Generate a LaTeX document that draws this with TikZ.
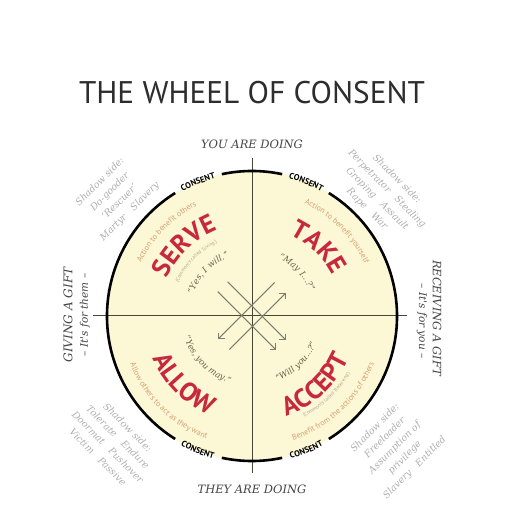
\documentclass[tikz,border=0pt]{standalone}
\usepackage{fontspec}
\setmainfont{DejaVu Serif}
\newfontfamily\sansfont{PT Sans}
\newfontfamily\slabfont{DejaVu Serif}
\usetikzlibrary{decorations.text,arrows.meta}
\definecolor{wheelfill}{RGB}{252,247,212}
\definecolor{wheelred}{RGB}{200,40,60}
\definecolor{tantext}{RGB}{214,160,118}
\definecolor{olivetext}{RGB}{100,100,72}
\definecolor{smallgray}{RGB}{180,165,140}
\definecolor{shadowgray}{RGB}{175,175,175}
\definecolor{axisgray}{RGB}{70,70,55}
\definecolor{arrowgray}{RGB}{125,125,110}
\definecolor{labelgray}{RGB}{70,70,70}
\def\fRed{\sansfont\bfseries\fontsize{26}{26}\selectfont\color{wheelred}}
\def\fTan{\sansfont\fontsize{8}{9}\selectfont\color{tantext}}
\def\fSmall{\sansfont\fontsize{5}{6}\selectfont\color{smallgray}}
\def\fQuote{\slabfont\itshape\fontsize{8.5}{9}\selectfont\color{olivetext}}
\def\fCons{\sansfont\bfseries\fontsize{8.5}{9}\selectfont\color{black}}
\newcommand{\ArcTop}[5]{\path[decorate,decoration={text along path,text align=center,text={|#4|#5}}] ({#2+#3}:#1) arc[start angle={#2+#3},end angle={#2-#3},radius=#1];}
\newcommand{\ArcBot}[5]{\path[decorate,decoration={text along path,text align=center,text={|#4|#5}}] ({#2-#3}:#1) arc[start angle={#2-#3},end angle={#2+#3},radius=#1];}
\tikzset{
  consentline/.style={line width=2.6pt,black},
  axisline/.style={line width=1pt,axisgray},
  centerarrow/.style={line width=1pt,arrowgray,-{Straight Barb[length=4pt,width=8pt]}},
  shadowtext/.style={font=\slabfont\itshape\fontsize{9.5}{14}\selectfont,text=shadowgray,align=center,inner sep=0pt},
  sidelabel/.style={font=\slabfont\itshape\fontsize{11.5}{13}\selectfont,text=labelgray,inner sep=0pt},
}
\begin{document}
\begin{tikzpicture}[x=1pt,y=1pt]
\useasboundingbox (0,0) rectangle (529,529);
\fill[white] (0,0) rectangle (529,529);
% title
\node[font=\sansfont\fontsize{31.3}{34}\selectfont,text={rgb,255:red,45;green,45;blue,45},inner sep=0pt] (title) at (252,436) {THE WHEEL OF CONSENT};
\node[sidelabel] (youdo) at (252,385) {YOU ARE DOING};
\node[sidelabel] (theydo) at (252,40) {THEY ARE DOING};
\node[sidelabel,rotate=90,font=\slabfont\itshape\fontsize{12}{13}\selectfont] (giving) at (68,214) {GIVING A GIFT};
\node[sidelabel,rotate=90,font=\slabfont\itshape\fontsize{10.5}{12}\selectfont] (forthem) at (85,214) {– It's for them –};
\node[sidelabel,rotate=-90] (receiving) at (437,211) {RECEIVING A GIFT};
\node[sidelabel,rotate=-90,font=\slabfont\itshape\fontsize{10.5}{12}\selectfont] (foryou) at (422,208) {– It's for you –};
% shadow sides
\node[shadowtext,rotate=45] (shTL) at (115,332) {Shadow side:\\Do-gooder\\‘Rescuer’\\Martyr\quad Slavery};
\node[shadowtext,rotate=-45] (shTR) at (382,335) {Shadow side:\\Perpetrator\quad Stealing\\Groping\quad Assault\\Rape\quad War};
\node[shadowtext,rotate=-45] (shBL) at (113,87) {Shadow side:\\Tolerate\quad Endure\\Doormat\quad Pushover\\Victim\quad Passive};
\node[shadowtext,rotate=45] (shBR) at (395,81) {Shadow side:\\Freeloader\\Assumption of\\privilege\\Slavery\quad Entitled};
\begin{scope}[shift={(252,213)}]
  \coordinate (C) at (0,0);
  \fill[wheelfill] (C) circle[radius=145];
  % axes
  \coordinate (hl) at (-159,0);
  \coordinate (hr) at (155,0);
  \coordinate (vt) at (0,158);
  \coordinate (vb) at (0,-157);
  \draw[axisline] (hl) -- (hr);
  \draw[axisline] (vt) -- (vb);
  % consent arcs
  \draw[consentline] (122:145) arc[start angle=122,end angle=238,radius=145];
  \draw[consentline] (102:145) arc[start angle=102,end angle=78,radius=145];
  \draw[consentline] (58:145) arc[start angle=58,end angle=-58,radius=145];
  \draw[consentline] (258:145) arc[start angle=258,end angle=282,radius=145];
  \ArcTop{142.3}{112}{20}{\fCons}{CONSENT}
  \ArcTop{142.3}{68}{20}{\fCons}{CONSENT}
  \ArcBot{148}{248}{20}{\fCons}{CONSENT}
  \ArcBot{148}{292}{20}{\fCons}{CONSENT}
  % SERVE quadrant
  \ArcTop{123}{135.5}{50}{\fTan}{Action to benefit others}
  \ArcTop{93}{134}{50}{\fRed}{SERVE}
  \ArcTop{81}{135.5}{50}{\fSmall}{(Commonly called ‘Giving’)}
  \ArcTop{63}{135.5}{60}{\fQuote}{“Yes, I will.”}
  % TAKE quadrant
  \ArcTop{124}{45}{50}{\fTan}{Action to benefit yourself}
  \ArcTop{90}{46}{50}{\fRed}{TAKE}
  \ArcTop{63}{44}{60}{\fQuote}{“May I...?”}
  % ALLOW quadrant
  \ArcBot{131}{225.5}{50}{\fTan}{Allow others to act as they want}
  \ArcBot{108}{225}{50}{\fRed}{ALLOW}
  \ArcBot{71}{224.5}{60}{\fQuote}{“Yes, you may.”}
  % ACCEPT quadrant
  \ArcBot{131}{313.5}{50}{\fTan}{Benefit from the actions of others}
  \ArcBot{106}{312.5}{50}{\fRed}{ACCEPT}
  \ArcBot{113.5}{313.5}{50}{\fSmall}{(Commonly called ‘Receiving’)}
  \ArcBot{70}{314}{60}{\fQuote}{“Will you...?”}
  % centre arrows
  \coordinate (aS) at (-24.4,34.3);  \coordinate (aE) at (33.6,-23.7);
  \coordinate (bS) at (-34.3,24.4);  \coordinate (bE) at (23.7,-33.6);
  \coordinate (cS) at (-22.6,-33.5); \coordinate (cE) at (33.6,22.7);
  \coordinate (dS) at (22.6,33.5);   \coordinate (dE) at (-33.6,-22.7);
  \draw[centerarrow] (aS) -- (aE);
  \draw[centerarrow] (bS) -- (bE);
  \draw[centerarrow] (cS) -- (cE);
  \draw[centerarrow] (dS) -- (dE);
\end{scope}
\end{tikzpicture}
\end{document}
